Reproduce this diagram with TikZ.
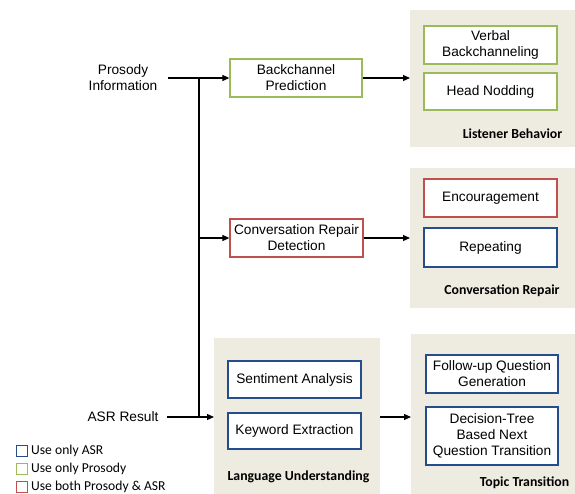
\documentclass[tikz,border=0pt]{standalone}
\usepackage{fontspec}
\setmainfont{Liberation Sans}
\newfontfamily\labelfont{Carlito}
\usetikzlibrary{arrows.meta}

\definecolor{panelfill}{RGB}{238,236,225}
\definecolor{prosodygreen}{RGB}{155,187,89}
\definecolor{bothred}{RGB}{192,80,77}
\definecolor{asrblue}{RGB}{37,76,140}

\tikzset{
  panel/.style={fill=panelfill, draw=none},
  module/.style={draw, fill=white, line width=1.3pt, inner sep=0pt, align=center,
    font=\fontsize{13.7}{16}\selectfont},
  green/.style={module, draw=prosodygreen},
  red/.style={module, draw=bothred},
  blue/.style={module, draw=asrblue},
  paneltitle/.style={font=\labelfont\bfseries\fontsize{13.8}{15}\selectfont, inner sep=0pt},
  inlabel/.style={align=center, inner sep=0pt, font=\fontsize{13.7}{16}\selectfont},
  legendbox/.style={draw, line width=1pt, minimum size=11pt, inner sep=0pt},
  legendtext/.style={font=\labelfont\fontsize{13.6}{16}\selectfont, inner sep=0pt, anchor=west},
  flow/.style={line width=1.2pt, -{Triangle[length=7pt,width=6pt]}},
  wire/.style={line width=1.2pt},
}

\begin{document}
\begin{tikzpicture}[x=1pt, y=-1pt]
\useasboundingbox (0,0) rectangle (575,494);

% grey output panels
\fill[panel] (410,10) rectangle (575,147);
\fill[panel] (410,168) rectangle (575,308);
\fill[panel] (214,338) rectangle (380,494);
\fill[panel] (411,334) rectangle (575,494);

% inputs
\node[inlabel] (prosody) at (123,78) {Prosody\\Information};
\node[inlabel] (asr) at (123,417) {ASR Result};

% first-stage modules
\node[green, minimum width=132pt, minimum height=38pt] (bcp) at (296,78) {Backchannel\\Prediction};
\node[red, minimum width=133pt, minimum height=38pt] (crd) at (296.5,238) {Conversation Repair\\Detection};

% listener behavior panel
\node[green, minimum width=133pt, minimum height=38pt] (verbal) at (490.5,45) {Verbal\\Backchanneling};
\node[green, minimum width=133pt, minimum height=37pt] (nod) at (490.5,91.5) {Head Nodding};
\node[paneltitle] (lbtitle) at (512.5,134) {Listener Behavior};
\coordinate (lbin) at (410,78);

% conversation repair panel
\node[red, minimum width=133pt, minimum height=38pt] (enc) at (490.5,198) {Encouragement};
\node[blue, minimum width=133pt, minimum height=39pt] (rep) at (490.5,247.5) {Repeating};
\node[paneltitle] (crtitle) at (502,291) {Conversation Repair};
\coordinate (crin) at (410,238);

% language understanding panel
\node[blue, minimum width=133pt, minimum height=37pt] (sent) at (294.5,379.5) {Sentiment Analysis};
\node[blue, minimum width=133pt, minimum height=36pt] (kw) at (294.5,431) {Keyword Extraction};
\node[paneltitle] (lutitle) at (298.5,477) {Language Understanding};
\coordinate (luin) at (214,417);
\coordinate (luout) at (380,417);

% topic transition panel
\node[blue, minimum width=132pt, minimum height=38pt] (fq) at (492,374) {Follow-up Question\\Generation};
\node[blue, minimum width=132pt, minimum height=58pt] (dt) at (492,436) {Decision-Tree\\Based Next\\Question Transition};
\node[paneltitle] (tttitle) at (524.5,483) {Topic Transition};
\coordinate (ttin) at (411,417);

% routing: the prosody bus runs down to the ASR line
\coordinate (ps) at (168,78);
\coordinate (as) at (167,417);
\coordinate (ptap) at (199,78);
\coordinate (atap) at (199,417);
\coordinate (ctap) at (199,238);
\draw[flow] (ps) -- (bcp.west);
\draw[wire] (ptap) -- (atap);
\draw[flow] (ctap) -- (crd.west);
\draw[flow] (as) -- (luin);
\draw[flow] (bcp.east) -- (lbin);
\draw[flow] (crd.east) -- (crin);
\draw[flow] (luout) -- (ttin);

% legend
\node[legendbox, draw=asrblue] (lgb) at (21.5,451) {};
\node[legendbox, draw=prosodygreen] (lgg) at (21.5,469) {};
\node[legendbox, draw=bothred] (lgr) at (21.5,487) {};
\node[legendtext] at (31,451) {Use only ASR};
\node[legendtext] at (31,469) {Use only Prosody};
\node[legendtext] at (31,487) {Use both Prosody \& ASR};
\end{tikzpicture}
\end{document}
